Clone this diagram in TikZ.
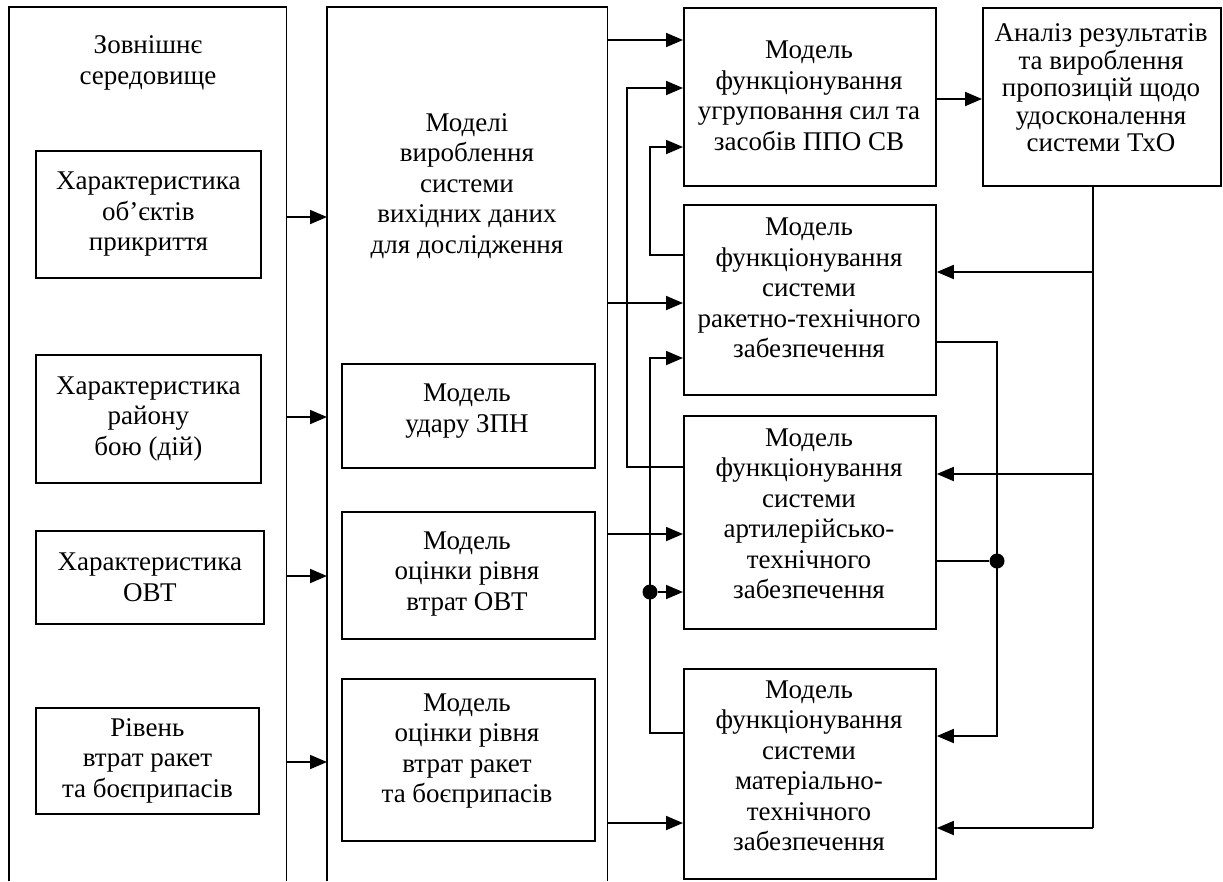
\documentclass[tikz,border=0pt]{standalone}
\usepackage{fontspec}
\setmainfont{Liberation Serif}
\usetikzlibrary{arrows.meta}
\begin{document}
\begin{tikzpicture}[x=1pt,y=-1pt,
  box/.style={draw, line width=1.8pt, inner sep=0pt, anchor=north west},
  frame/.style={inner sep=0pt, anchor=north west},
  txt/.style={align=center, font=\fontsize{27}{30.5}\selectfont, inner sep=0pt},
  arr/.style={line width=1.8pt, -{Triangle[length=17pt,width=14pt]}},
  ln/.style={line width=1.8pt},
  dotnode/.style={circle, fill, inner sep=0pt, minimum size=15pt}]
\useasboundingbox (0,0) rectangle (1223,881);
% big open frames
\node[frame, minimum width=277pt, minimum height=874pt] (L) at (9,7) {};
\node[frame, minimum width=280pt, minimum height=874pt] (M) at (327,7) {};
\draw[ln] (L.south west) -- (L.north west) -- (L.north east) -- (L.south east);
\draw[ln] (M.south west) -- (M.north west) -- (M.north east) -- (M.south east);
\node[txt] (tL) at (148,63) {Зовнішнє\\середовище};
\node[txt] (tM) at (467,186) {Моделі\\вироблення\\системи\\вихідних даних\\для дослідження};
% left inner boxes
\node[box, minimum width=225pt, minimum height=127pt] (l1) at (35,150) {};
\node[txt] (tl1) at (l1.center) {Характеристика\\об’єктів\\прикриття};
\node[box, minimum width=225pt, minimum height=128pt] (l2) at (35,354) {};
\node[txt] (tl2) at (l2.center) {Характеристика\\району\\бою (дій)};
\node[box, minimum width=228pt, minimum height=93pt] (l3) at (35,530) {};
\node[txt] (tl3) at (l3.center) {Характеристика\\ОВТ};
\node[box, minimum width=223pt, minimum height=106pt] (l4) at (35,707) {};
\node[txt] (tl4) at (l4.center) {Рівень\\втрат ракет\\та боєприпасів};
% middle inner boxes
\node[box, minimum width=253pt, minimum height=104pt] (m1) at (341,363) {};
\node[txt] (tm1) at (467,411) {Модель\\удару ЗПН};
\node[box, minimum width=253pt, minimum height=127pt] (m2) at (341,511) {};
\node[txt] (tm2) at (467,574) {Модель\\оцінки рівня\\втрат ОВТ};
\node[box, minimum width=253pt, minimum height=162pt] (m3) at (341,678) {};
\node[txt] (tm3) at (467,751) {Модель\\оцінки рівня\\втрат ракет\\та боєприпасів};
% right column
\node[box, minimum width=252pt, minimum height=178pt] (A) at (683,7) {};
\node[txt] (tA) at (809,96) {Модель\\функціонування\\угруповання сил та\\засобів ППО СВ};
\node[box, minimum width=252pt, minimum height=190pt] (B) at (683,204) {};
\node[txt] (tB) at (809,288) {Модель\\функціонування\\системи\\ракетно-технічного\\забезпечення};
\node[box, minimum width=252pt, minimum height=213pt] (C) at (683,415) {};
\node[txt] (tC) at (809,514) {Модель\\функціонування\\системи\\артилерійсько-\\технічного\\забезпечення};
\node[box, minimum width=252pt, minimum height=210pt] (D) at (683,668) {};
\node[txt] (tD) at (809,766) {Модель\\функціонування\\системи\\матеріально-\\технічного\\забезпечення};
\node[box, minimum width=238pt, minimum height=178pt] (E) at (982,7) {};
\node[txt, font=\fontsize{27}{27.5}\selectfont] (tE) at (1101,88) {Аналіз результатів\\та вироблення\\пропозицій щодо\\удосконалення\\системи ТхО};
% dots
\node[dotnode] (d1) at (650,592) {};
\node[dotnode] (d2) at (997,561) {};
% L -> M
\draw[arr] (L.east |- 0,217) -- (M.west |- 0,217);
\draw[arr] (L.east |- 0,417) -- (M.west |- 0,417);
\draw[arr] (L.east |- 0,576) -- (M.west |- 0,576);
\draw[arr] (L.east |- 0,762) -- (M.west |- 0,762);
% M -> right boxes
\draw[arr] (M.east |- 0,40) -- (A.west |- 0,40);
\draw[arr] (M.east |- 0,303) -- (B.west |- 0,303);
\draw[arr] (M.east |- 0,534) -- (C.west |- 0,534);
\draw[arr] (M.east |- 0,823) -- (D.west |- 0,823);
% feedback on left of right column
\draw[arr] (C.west |- 0,467) -- (627,467) -- (627,88) -- (A.west |- 0,88);
\draw[arr] (B.west |- 0,255) -- (650,255) -- (650,147) -- (A.west |- 0,147);
\draw[arr] (D.west |- 0,733) -- (650,733) -- (650,358) -- (B.west |- 0,358);
\draw[arr] (d1) -- (C.west |- d1);
% A -> E
\draw[arr] (A.east |- 0,99) -- (E.west |- 0,99);
% E -> B, C, D
\draw[ln] (E.south -| 1093,0) -- (1093,828);
\draw[arr] (1093,272) -- (B.east |- 0,272);
\draw[arr] (1093,474) -- (C.east |- 0,474);
\draw[arr] (1093,828) -- (D.east |- 0,828);
% B -> C, D
\draw[arr] (B.east |- 0,342) -- (997,342) -- (997,736) -- (D.east |- 0,736);
\draw[ln] (d2) -- (C.east |- d2);
\end{tikzpicture}
\end{document}
